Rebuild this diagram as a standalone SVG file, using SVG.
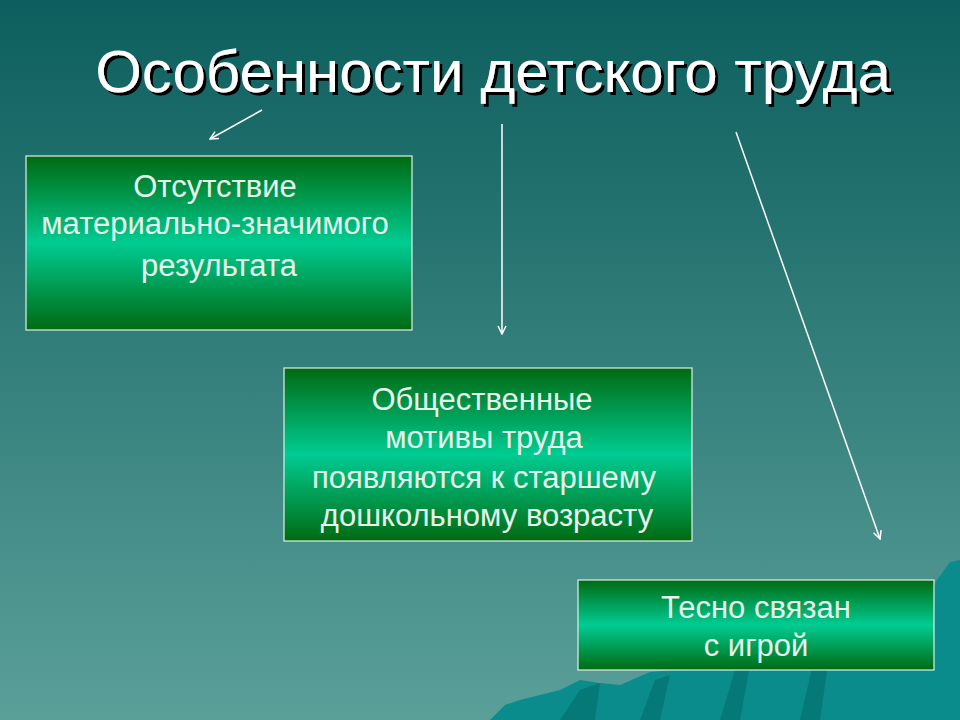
<svg xmlns="http://www.w3.org/2000/svg" width="960" height="720" viewBox="0 0 960 720">
<defs>
<linearGradient id="bg" x1="0" y1="0" x2="0" y2="1"><stop offset="0" stop-color="#0c5f5e"/><stop offset="1" stop-color="#5b9f99"/></linearGradient>
<linearGradient id="box" x1="0" y1="0" x2="0" y2="1"><stop offset="0" stop-color="#006a12"/><stop offset="0.5" stop-color="#00cc92"/><stop offset="1" stop-color="#006a12"/></linearGradient>
<filter id="sh" x="-5%" y="-20%" width="110%" height="150%"><feDropShadow dx="3" dy="3" stdDeviation="0.5" flood-color="#000" flood-opacity="1"/></filter>
<marker id="ah" viewBox="0 0 10 10" refX="9" refY="5" markerWidth="10" markerHeight="10" markerUnits="userSpaceOnUse" orient="auto"><path d="M1,1 L9,5 L1,9" fill="none" stroke="#fff" stroke-width="1.5"/></marker>
<style>
.b{fill:url(#box);stroke:#e0f0e8;stroke-width:1.2}
.t{font-family:"Liberation Sans",Arial,sans-serif;font-size:31px;fill:#e6f5ec;text-anchor:middle}
.c{stroke:#fff;stroke-width:1.5;fill:none;marker-end:url(#ah)}
</style>
</defs>
<rect width="960" height="720" fill="url(#bg)"/>
<path d="M490,720 L505,705 L520,700 L560,690 L580,680 L600,683 L620,685 L650,672 L700,668 L720,660 L780,652 L840,640 L890,620 L930,590 L950,562 L960,560 L960,720 Z" fill="#0a8c8c"/>
<path d="M560,720 L580,690 L600,683 L595,720 Z M640,720 L655,680 L670,675 L660,720 Z M720,720 L735,670 L750,665 L740,720 Z M800,720 L815,655 L830,650 L820,720 Z" fill="#057878"/>
<g id="title"><text x="493" y="92" font-family="'Liberation Sans',Arial,sans-serif" font-size="60" text-anchor="middle" fill="#fff" filter="url(#sh)">Особенности детского труда</text></g>
<g id="connectors">
<line class="c" x1="262" y1="110" x2="210" y2="139"/>
<line class="c" x1="502" y1="124" x2="502" y2="334"/>
<line class="c" x1="736" y1="132" x2="880" y2="539"/>
</g>
<g id="n1"><rect class="b" x="26" y="156" width="386" height="174"/><text class="t" x="215" y="197">Отсутствие</text><text class="t" x="215" y="234">материально-значимого</text><text class="t" x="219" y="276">результата</text></g>
<g id="n2"><rect class="b" x="284" y="368" width="408" height="173"/><text class="t" x="482" y="410">Общественные</text><text class="t" x="484" y="448">мотивы труда</text><text class="t" x="484" y="488">появляются к старшему</text><text class="t" x="487" y="526">дошкольному возрасту</text></g>
<g id="n3"><rect class="b" x="578" y="580" width="356" height="90"/><text class="t" x="756" y="618">Тесно связан</text><text class="t" x="756" y="656">с игрой</text></g>
</svg>
